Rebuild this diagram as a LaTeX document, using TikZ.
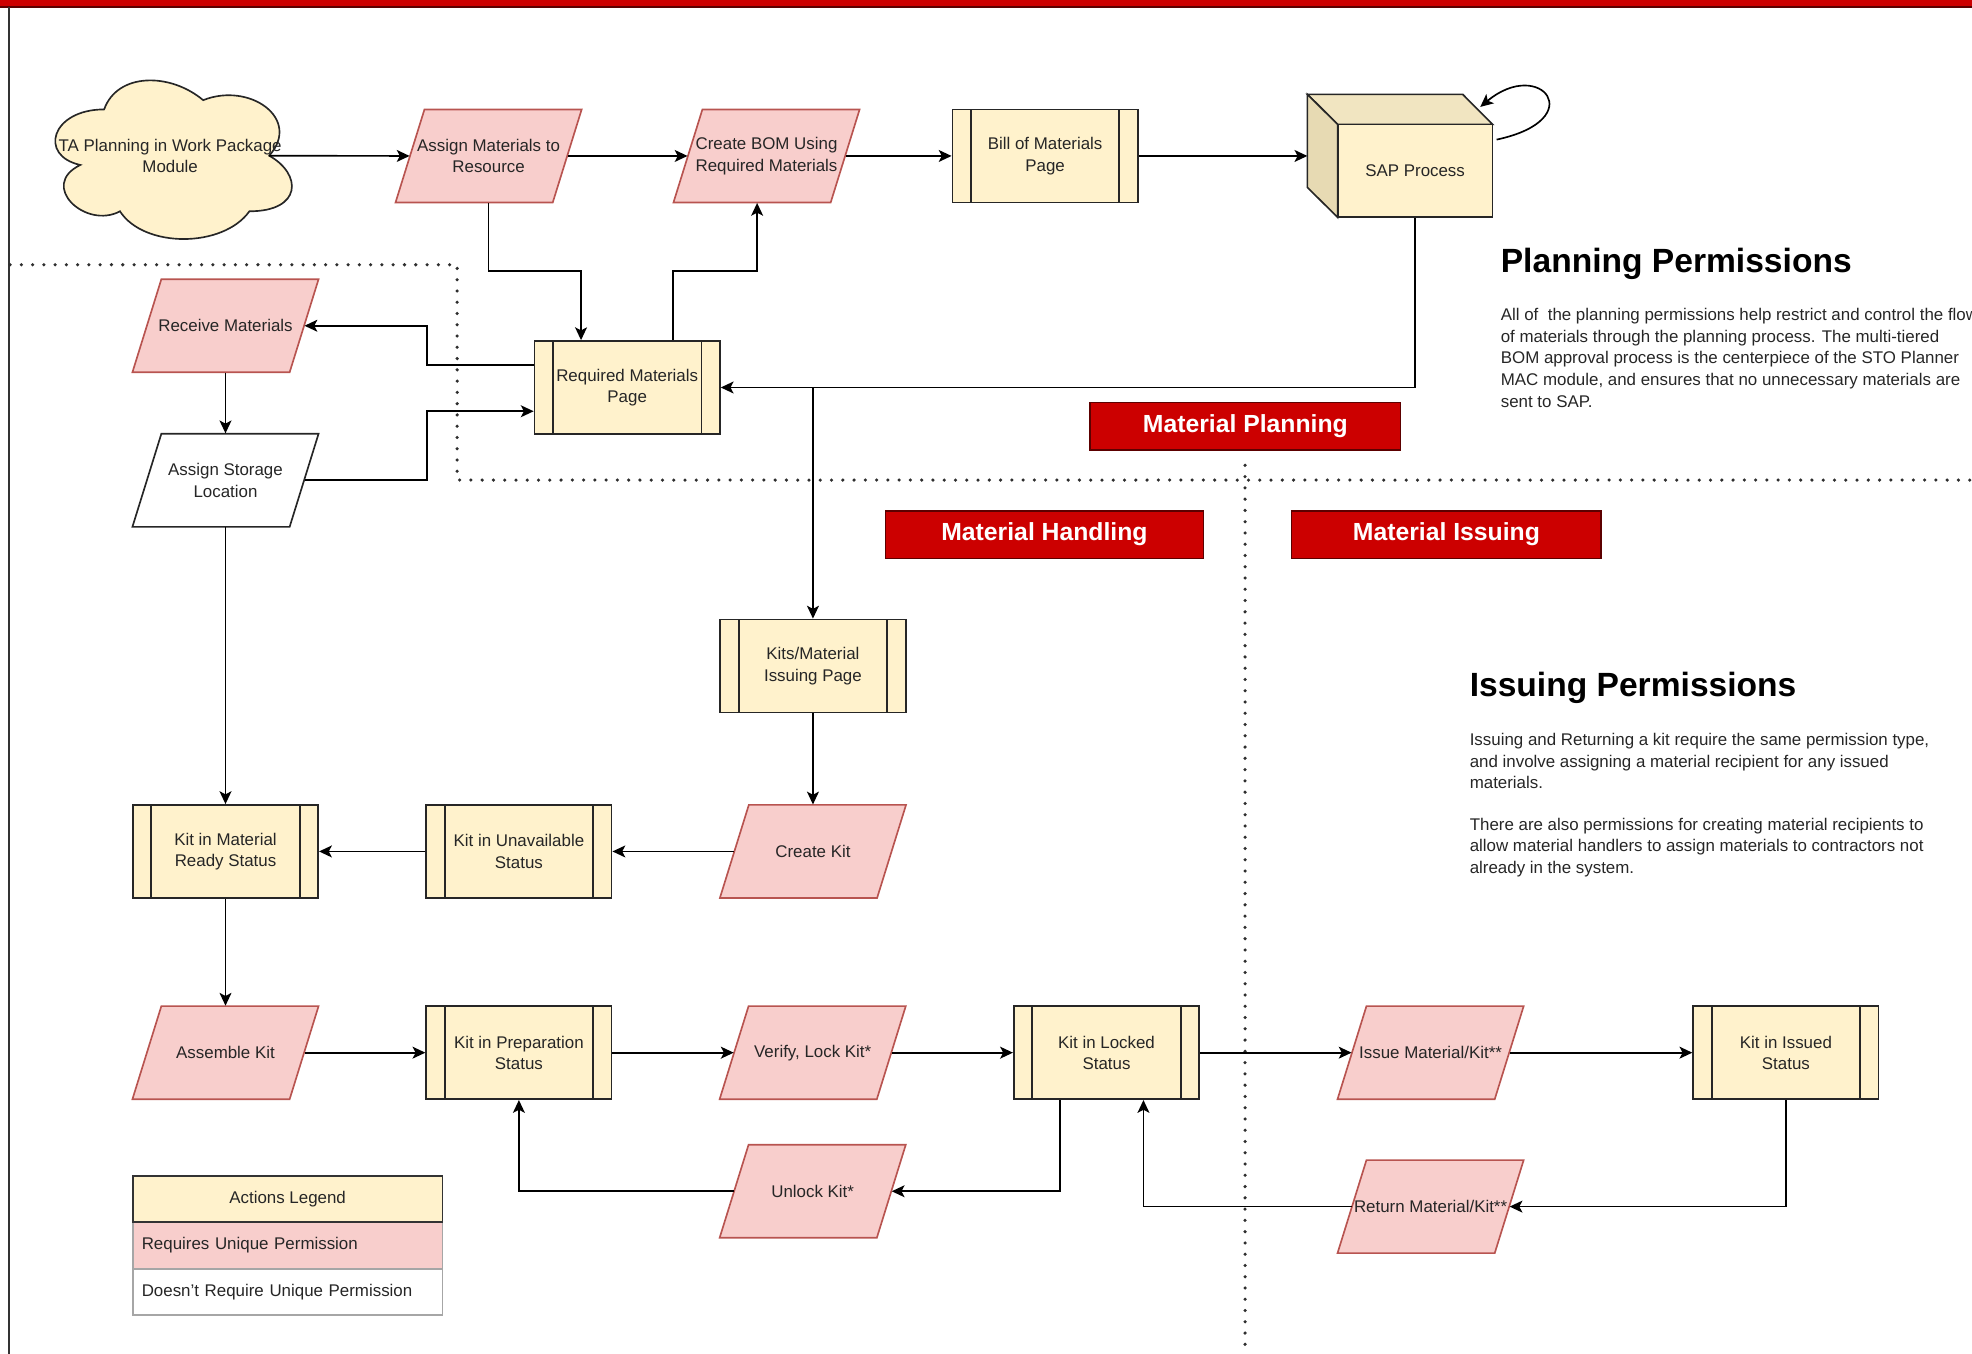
\documentclass[tikz,border=0pt]{standalone}
\usepackage{fontspec}
\setmainfont{Liberation Sans}
\usetikzlibrary{arrows.meta,calc}
\definecolor{cream}{HTML}{FFF2CC}
\definecolor{pinkf}{HTML}{F8CECC}
\definecolor{pinkd}{HTML}{B85450}
\definecolor{redbox}{HTML}{CC0000}
\definecolor{redline}{HTML}{5C0000}
\definecolor{txt}{HTML}{262626}
\definecolor{cubetop}{HTML}{F1E5C1}
\definecolor{cubeside}{HTML}{E7DAB3}
\definecolor{dotc}{HTML}{2E2E2E}
\definecolor{legline}{HTML}{A6A6A6}
% parallelogram: name, centre "x,y", text, fill, draw
\newcommand\mypg[5]{%
  \draw[fill=#4, draw=#5, line width=0.75pt] ($(#2)+(-74,37)$) -- ($(#2)+(-51,-37)$) -- ($(#2)+(74,-37)$) -- ($(#2)+(51,37)$) -- cycle;
  \node[pgnode] (#1) at (#2) {#3};}
\begin{document}
\begin{tikzpicture}[x=0.02cm,y=-0.02cm,
  every node/.style={font=\fontsize{7.65}{9.7}\selectfont, text=txt},
  shapeline/.style={line width=0.75pt},
  pgnode/.style={rectangle, minimum width=2.5cm, minimum height=1.48cm, inner sep=0pt, align=center},
  proc/.style={rectangle, draw=black!85, fill=cream, shapeline,
    minimum width=2.95cm, minimum height=1.48cm, inner sep=0pt, align=center,
    path picture={\draw[line width=0.75pt, black!85]
      ([xshift=0.295cm]path picture bounding box.north west) -- ([xshift=0.295cm]path picture bounding box.south west)
      ([xshift=-0.295cm]path picture bounding box.north east) -- ([xshift=-0.295cm]path picture bounding box.south east);}},
  sect/.style={rectangle, fill=redbox, draw=redline, line width=0.6pt, minimum height=0.752cm,
    inner sep=0pt, text=white, font=\fontsize{11.2}{13}\selectfont\bfseries},
  legbox/.style={rectangle, minimum width=4.92cm, minimum height=0.735cm, inner ysep=0pt, line width=0.7pt},
  conn/.style={draw=black, line width=0.75pt, -{Stealth[length=5.8pt,width=5.4pt,inset=1.4pt]}},
  dotline/.style={draw=dotc, line width=1.6pt, line cap=round, dash pattern=on 0pt off 5.1pt},
  heading/.style={anchor=base west, inner sep=0pt, text=black, font=\fontsize{15.2}{18}\selectfont\bfseries},
  para/.style={anchor=base west, inner sep=0pt, text=txt}
]
\useasboundingbox (0,0) rectangle (1568,1076.6);
% frame
\fill[redbox] (0,0) rectangle (1568,5.6);
\draw[redline, line width=0.5pt] (0,5.6) -- (1568,5.6);
\draw[black!80, line width=0.9pt] (7.2,5.6) -- (7.2,1076.6);
% dotted section lines
\draw[dotline] (8,210.5) -- (363.5,210.5) -- (363.5,381.7) -- (1568,381.7);
\draw[dotline] (990,370) -- (990,1076.6);

% cloud
\draw[fill=cream, draw=black!85, shapeline] (82.8,87.0) .. controls (40.8,87.0) and (30.3,123.8) .. (63.9,131.16)
  .. controls (30.3,147.35) and (68.1,182.7) .. (95.4,168.0)
  .. controls (114.3,197.4) and (177.3,197.4) .. (198.3,168.0)
  .. controls (240.3,168.0) and (240.3,138.5) .. (214.05,123.8)
  .. controls (240.3,94.36) and (198.3,64.92) .. (161.55,79.64)
  .. controls (135.3,57.56) and (93.3,57.56) .. (82.8,87.0) -- cycle;
\node[align=center, inner sep=0pt] (ta) at (135.3,123.8) {TA Planning in Work Package\\Module};
\coordinate (taE) at (214.05,123.8);

% cube
\draw[fill=cubetop, draw=black!85, shapeline] (1039.5,75) -- (1163,75) -- (1186.8,98.9) -- (1063.6,98.9) -- cycle;
\draw[fill=cubeside, draw=black!85, shapeline] (1039.5,75) -- (1063.6,98.9) -- (1063.6,172.8) -- (1039.5,149) -- cycle;
\node[rectangle, fill=cream, draw=black!85, shapeline, minimum width=2.464cm, minimum height=1.478cm, inner sep=0pt] (sap) at (1125.2,135.85) {SAP Process};
\coordinate (sapL) at (1039.5,124);
\coordinate (loopS) at (1190,111);
\coordinate (loopE) at (1177,85);

% nodes
\mypg{am}{388.5,124}{Assign Materials to\\Resource}{pinkf}{pinkd}
\mypg{cb}{609.5,124}{Create BOM Using\\Required Materials}{pinkf}{pinkd}
\node[proc] (bom) at (831,124) {Bill of Materials\\Page};
\node[proc] (rm) at (498.7,308.1) {Required Materials\\Page};
\mypg{rcv}{179.3,259}{Receive Materials}{pinkf}{pinkd}
\mypg{asl}{179.3,381.9}{Assign Storage\\Location}{white}{black!85}
\node[proc] (kits) at (646.4,529.5) {Kits/Material\\Issuing Page};
\mypg{ck}{646.4,677}{Create Kit}{pinkf}{pinkd}
\node[proc] (kun) at (412.6,677) {Kit in Unavailable\\Status};
\node[proc] (kmr) at (179.3,677) {Kit in Material\\Ready Status};
\mypg{ak}{179.3,837}{Assemble Kit}{pinkf}{pinkd}
\node[proc] (kp) at (412.6,837) {Kit in Preparation\\Status};
\mypg{vl}{646.2,837}{Verify, Lock Kit*}{pinkf}{pinkd}
\node[proc] (kl) at (879.8,837) {Kit in Locked\\Status};
\mypg{im}{1137.5,837}{Issue Material/Kit**}{pinkf}{pinkd}
\node[proc] (ki) at (1420,837) {Kit in Issued\\Status};
\mypg{uk}{646.2,947.2}{Unlock Kit*}{pinkf}{pinkd}
\mypg{rt}{1137.5,959.4}{Return Material/Kit**}{pinkf}{pinkd}

% section labels
\node[sect, minimum width=4.94cm] (mp) at (990.2,339) {Material Planning};
\node[sect, minimum width=5.06cm] (mh) at (830.5,425.1) {Material Handling};
\node[sect, minimum width=4.92cm] (mi) at (1150.1,425.1) {Material Issuing};

% legend
\node[legbox, fill=pinkf, draw=legline, text width=4.64cm, inner xsep=0.14cm, align=left] (lg2) at (228.7,990.3) {Requires Unique Permission};
\node[legbox, fill=white, draw=legline, text width=4.64cm, inner xsep=0.14cm, align=left] (lg3) at (228.7,1027.3) {Doesn't Require Unique Permission};
\node[legbox, fill=cream, draw=black!80, inner xsep=0pt] (lg1) at (228.7,953.3) {Actions Legend};

% text blocks
\node[heading] (hp) at (1193,217) {Planning Permissions};
\foreach \t [count=\i from 0] in {{All of~ the planning permissions help restrict and control the flow},
  {of materials through the planning process. The multi-tiered},
  {BOM approval process is the centerpiece of the STO Planner},
  {MAC module, and ensures that no unnecessary materials are},
  {sent to SAP.}}
  \node[para] (pp\i) at (1193,{255+17.2*\i}) {\t};
\node[heading] (hi) at (1168.3,554) {Issuing Permissions};
\foreach \t [count=\i from 0] in {{Issuing and Returning a kit require the same permission type,},
  {and involve assigning a material recipient for any issued},
  {materials.}}
  \node[para] (ia\i) at (1168.3,{592.7+17.2*\i}) {\t};
\foreach \t [count=\i from 0] in {{There are also permissions for creating material recipients to},
  {allow material handlers to assign materials to contractors not},
  {already in the system.}}
  \node[para] (ib\i) at (1168.3,{660+17.2*\i}) {\t};

% junction coordinates
\coordinate (c6) at (462,215.5);
\coordinate (c7a) at (535,215.5);
\coordinate (c7b) at (602,215.5);
\coordinate (jk) at (646.4,308.1);
\coordinate (c10) at (339.3,259);
\coordinate (c11) at (339.3,381.9);
\coordinate (c24) at (909.2,959.4);
\coordinate (c25) at (842.6,947.2);

% connectors
\draw[conn] (taE) -- (am.west);
\draw[conn] (am.east) -- (cb.west);
\draw[conn] (cb.east) -- (bom.west);
\draw[conn] (bom.east) -- (sapL);
\draw[conn] (loopS) .. controls (1265,95) and (1225,45) .. (loopE);
\draw[conn] (am.south) |- (c6) -- (c6 |- rm.north);
\draw[conn] (c7a |- rm.north) -- (c7a) -- (c7b) -- (c7b |- cb.south);
\draw[conn] (sap.south) |- (rm.east);
\draw[conn] (jk) -- (kits.north);
\draw[conn] ([yshift=0.36cm]rm.west) -| (c10) -- (rcv.east);
\draw[conn] (rcv.south) -- (asl.north);
\draw[conn] (asl.east) -- (c11) |- ([yshift=-0.378cm]rm.west);
\draw[conn] (asl.south) -- (kmr.north);
\draw[conn] (kits.south) -- (ck.north);
\draw[conn] (ck.west) -- (kun.east);
\draw[conn] (kun.west) -- (kmr.east);
\draw[conn] (kmr.south) -- (ak.north);
\draw[conn] (ak.east) -- (kp.west);
\draw[conn] (kp.east) -- (vl.west);
\draw[conn] (vl.east) -- (kl.west);
\draw[conn] (kl.east) -- (im.west);
\draw[conn] (im.east) -- (ki.west);
\draw[conn] (ki.south) |- (rt.east);
\draw[conn] (rt.west) -- (c24) -- (c24 |- kl.south);
\draw[conn] (c25 |- kl.south) -- (c25) -- (uk.east);
\draw[conn] (uk.west) -| (kp.south);
\end{tikzpicture}
\end{document}
